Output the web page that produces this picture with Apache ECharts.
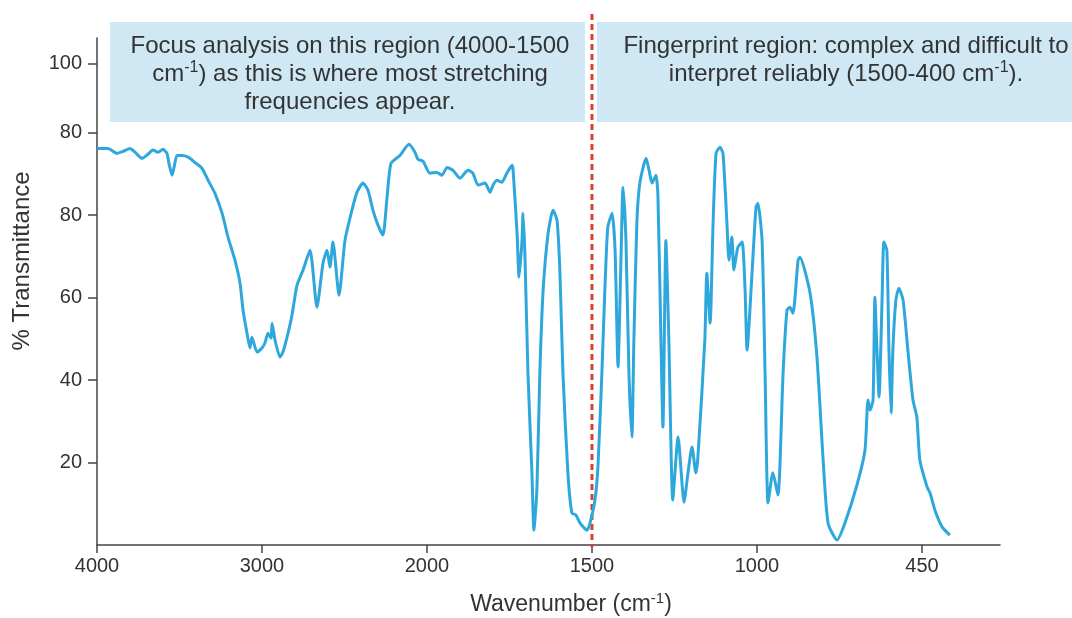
<!DOCTYPE html>
<html>
<head>
<meta charset="utf-8">
<script src="https://cdn.jsdelivr.net/npm/echarts@6/dist/echarts.min.js"></script>
<style>
  html, body { margin: 0; padding: 0; background: #ffffff; }
  #chart { width: 1072px; height: 618px; }
</style>
</head>
<body>
<div id="chart"></div>
<script>
// ---- Data ----
const xTickValues = [4000, 3000, 2000, 1500, 1000, 450];
const xTickLabels = ['4000', '3000', '2000', '1500', '1000', '450'];
const yTickValues = [20, 40, 60, 80, 100, 116.8];
const yTickLabels = ['20', '40', '60', '80', '80', '100'];
const dividerWavenumber = 1500;

const wavenumbers = [
  4000, 3933, 3879, 3842, 3800, 3770, 3727, 3691, 3661, 3630, 3600, 3576, 3564, 3545, 3533, 3515,
  3485, 3448, 3406, 3364, 3327, 3285, 3242, 3206, 3164, 3133, 3115, 3091, 3073, 3061, 3030,
  3000, 2982, 2964, 2945, 2939, 2921, 2891, 2873, 2842, 2818, 2788, 2751, 2709, 2667, 2630,
  2606, 2588, 2570, 2533, 2497, 2455, 2424, 2388, 2358, 2327, 2297, 2267, 2242, 2218, 2164,
  2109, 2073, 2055, 2024,
  1991, 1970, 1955, 1939, 1921, 1900, 1876, 1861, 1845, 1824, 1809, 1800, 1788, 1773, 1758,
  1742, 1739, 1727, 1721, 1712, 1709, 1703, 1694, 1682, 1676, 1667, 1658, 1648, 1633, 1618,
  1606, 1597, 1588, 1573, 1561, 1549, 1536, 1515, 1506,
  1491, 1482, 1470, 1461, 1452, 1439, 1430, 1421, 1412, 1406, 1397, 1388, 1379, 1373, 1364,
  1355, 1336, 1327, 1318, 1306, 1300, 1291, 1285, 1276, 1267, 1255, 1239, 1221, 1209, 1197,
  1185, 1179, 1158, 1152, 1142, 1133, 1124, 1112, 1103, 1091, 1085, 1076, 1070, 1058, 1045,
  1036, 1030, 1015, 1003,
  997, 983, 973, 963, 947, 930, 913, 900, 890, 880, 863, 857, 823, 800, 780, 763, 733, 707,
  667, 640, 630, 623, 613, 607, 600, 593, 583, 577, 567, 560, 553, 547, 537, 527, 513, 497,
  480, 467, 457, 433, 423, 407, 383, 357
];
const transmittance = [
  96.2, 96.2, 95.0, 95.5, 96.2, 95.3, 93.8, 94.8, 95.8, 95.3, 96.0, 95.0, 92.6, 89.7, 91.6, 94.5,
  94.5, 94.1, 92.8, 91.4, 88.5, 85.3, 80.5, 74.7, 69.1, 63.5, 57.0, 51.4, 47.8, 50.4, 46.8,
  47.8, 49.0, 51.4, 50.2, 53.8, 49.7, 45.6, 46.8, 51.4, 55.8, 63.0, 66.7, 71.5, 57.7, 68.4,
  71.5, 67.4, 73.5, 60.6, 73.9, 81.2, 85.6, 87.8, 86.1, 81.2, 77.6, 75.2, 84.4, 92.6, 94.5,
  97.2, 95.3, 93.6, 93.1,
  90.2, 90.4, 89.7, 91.6, 90.9, 89.0, 90.9, 90.2, 87.3, 87.8, 85.6, 87.3, 88.5, 88.0, 90.2,
  92.1, 90.9, 75.6, 65.0, 73.9, 80.5, 69.8, 41.7, 17.5, 3.6, 13.3, 41.7, 61.8, 75.6, 81.2,
  78.8, 65.9, 41.7, 17.5, 7.8, 7.3, 5.3, 3.6, 5.3,
  10.9, 18.9, 41.7, 61.8, 77.1, 80.5, 71.5, 43.2, 69.8, 86.8, 73.9, 41.7, 26.2, 49.7, 78.1,
  87.8, 93.8, 90.9, 87.8, 89.7, 84.4, 49.7, 28.6, 73.9, 49.7, 10.9, 26.2, 10.4, 17.5, 23.8,
  17.5, 21.3, 49.7, 65.9, 53.8, 78.1, 95.0, 96.5, 95.0, 78.1, 69.1, 74.7, 66.7, 72.2, 73.5,
  61.8, 47.3, 65.9, 81.9,
  82.9, 73.9, 41.7, 10.2, 17.5, 12.1, 41.7, 57.0, 57.7, 56.2, 69.1, 69.8, 61.1, 45.6, 21.3, 5.3, 1.2, 5.3,
  14.5, 23.0, 35.2, 32.7, 35.2, 60.1, 47.3, 35.9, 59.4, 73.5, 71.5, 47.3, 32.0, 47.3, 59.4, 62.3, 59.4, 47.3,
  35.2, 31.0, 20.6, 14.1, 12.6, 8.5, 4.4, 2.4
];

// Map a wavenumber onto the axis, whose labelled ticks are evenly spaced
function toAxis(w) {
  const n = xTickValues.length;
  for (let i = 0; i < n - 1; i++) {
    const hi = xTickValues[i], lo = xTickValues[i + 1];
    if (w >= lo || i === n - 2) return i + (hi - w) / (hi - lo);
  }
  return n - 1;
}

const seriesData = wavenumbers.map((w, i) => [toAxis(w), transmittance[i]]);
const xTickPositions = xTickValues.map(toAxis);

const FONT = '"Liberation Sans", Arial, Helvetica, sans-serif';
const TEXT = '#333333';
const AXIS = '#444444';

const chart = echarts.init(document.getElementById('chart'), null, { renderer: 'canvas' });

const boxText = {
  t: { fontSize: 24, fontFamily: FONT, fill: TEXT, lineHeight: 28 },
  s: { fontSize: 16, fontFamily: FONT, fill: TEXT, verticalAlign: 'top', lineHeight: 16 }
};

chart.setOption({
  animation: false,
  backgroundColor: '#ffffff',
  grid: { left: 97, right: 72, top: 38, bottom: 73, containLabel: false },
  xAxis: {
    type: 'value',
    min: 0,
    max: 5.473,
    axisLine: { show: true, lineStyle: { color: AXIS, width: 1.5 } },
    axisTick: { show: true, length: 8, customValues: xTickPositions, lineStyle: { color: AXIS, width: 1.5 } },
    axisLabel: {
      customValues: xTickPositions,
      margin: 11,
      fontSize: 20,
      fontFamily: FONT,
      color: TEXT,
      formatter: function (v) {
        const idx = xTickPositions.findIndex(p => Math.abs(p - v) < 1e-6);
        return idx >= 0 ? xTickLabels[idx] : '';
      }
    },
    splitLine: { show: false }
  },
  yAxis: {
    type: 'value',
    min: 0,
    max: 123,
    axisLine: { show: true, lineStyle: { color: AXIS, width: 1.5 } },
    axisTick: { show: true, length: 9, customValues: yTickValues, lineStyle: { color: AXIS, width: 1.5 } },
    axisLabel: {
      customValues: yTickValues,
      margin: 15,
      fontSize: 20,
      fontFamily: FONT,
      color: TEXT,
      formatter: function (v) {
        const idx = yTickValues.findIndex(p => Math.abs(p - v) < 1e-6);
        return idx >= 0 ? yTickLabels[idx] : '';
      }
    },
    splitLine: { show: false }
  },
  series: [{
    type: 'line',
    data: seriesData,
    showSymbol: false,
    symbol: 'none',
    smooth: 0.2,
    clip: false,
    lineStyle: { color: '#2ea8dc', width: 3 }
  }],
  graphic: [
    { id: 'boxL', type: 'rect', shape: { x: 110, y: 22, width: 475, height: 100 }, style: { fill: '#cfe8f3' }, z: 1 },
    { id: 'boxR', type: 'rect', shape: { x: 597, y: 22, width: 500, height: 100 }, style: { fill: '#cfe8f3' }, z: 1 },
    {
      id: 'textL', type: 'text', x: 350, y: 32, z: 2,
      style: {
        text: '{t|Focus analysis on this region (4000-1500}\n{t|cm}{s|-1}{t|) as this is where most stretching}\n{t|frequencies appear.}',
        align: 'center', verticalAlign: 'top', rich: boxText
      }
    },
    {
      id: 'textR', type: 'text', x: 846, y: 32, z: 2,
      style: {
        text: '{t|Fingerprint region: complex and difficult to}\n{t|interpret reliably (1500-400 cm}{s|-1}{t|).}',
        align: 'center', verticalAlign: 'top', rich: boxText
      }
    },
    {
      id: 'yTitle', type: 'text', x: 22, y: 261, rotation: Math.PI / 2, z: 2,
      style: { text: '% Transmittance', fontSize: 24, fontFamily: FONT, fill: TEXT, align: 'center', verticalAlign: 'middle' }
    },
    {
      id: 'xTitle', type: 'text', x: 571, y: 591, z: 2,
      style: {
        text: '{t|Wavenumber (cm}{s|-1}{t|)}',
        align: 'center', verticalAlign: 'top',
        rich: {
          t: { fontSize: 23, fontFamily: FONT, fill: TEXT, lineHeight: 27 },
          s: { fontSize: 15, fontFamily: FONT, fill: TEXT, verticalAlign: 'top', lineHeight: 15 }
        }
      }
    }
  ]
});

// Dashed divider at 1500 cm-1, placed through the x axis scale
const dividerX = chart.convertToPixel({ xAxisIndex: 0 }, toAxis(dividerWavenumber));
const baseY = chart.convertToPixel({ yAxisIndex: 0 }, 0);
chart.setOption({
  graphic: [{
    id: 'divider', type: 'line', z: 3,
    shape: { x1: dividerX, y1: 14, x2: dividerX, y2: baseY + 2 },
    style: { stroke: '#d9412b', lineWidth: 3, lineDash: [6, 4] }
  }]
});
</script>
</body>
</html>
